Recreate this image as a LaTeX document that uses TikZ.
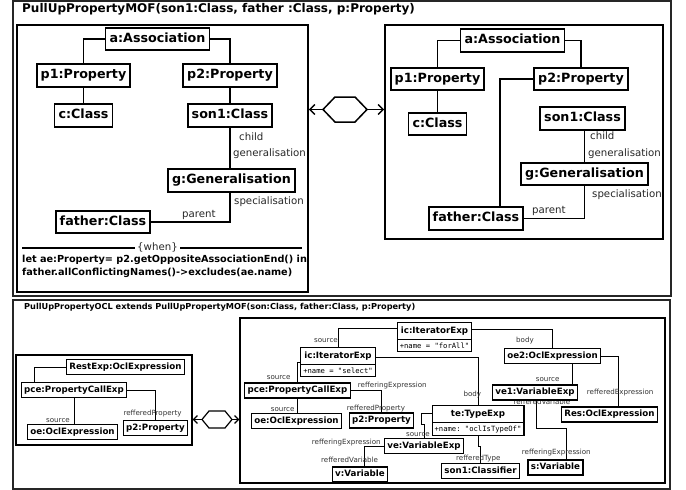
\documentclass[tikz,border=0pt]{standalone}
\usepackage{fontspec}
\setmainfont{DejaVu Sans}
\setmonofont{DejaVu Sans Mono}
\usetikzlibrary{arrows.meta,shapes.multipart}
\pgfdeclarelayer{bg}
\pgfsetlayers{bg,main}
\newcommand\nstrut{\rule[-2.6pt]{0pt}{10.5pt}}
\newcommand\astrut{\rule[-0.5pt]{0pt}{5.5pt}}
\newcommand\attrtext[1]{{\mdseries\ttfamily\fontsize{7.2}{8}\selectfont\astrut#1}}
\begin{document}
\begin{tikzpicture}[x=1pt,y=-1pt,
  outer/.style={draw=black!85, line width=1.5pt, inner sep=0pt},
  frame/.style={draw, line width=1.6pt, inner sep=0pt},
  sframe/.style={draw, line width=1.2pt, inner sep=0pt},
  big/.style={draw, fill=white, line width=1.8pt, font=\fontsize{12.7}{14}\selectfont\bfseries,
    inner xsep=4pt, inner ysep=0pt, text height=9.3pt, text depth=2.7pt, minimum height=22.5pt},
  bigl/.style={font=\fontsize{10.2}{12}\selectfont, text=black!85, inner sep=0pt, anchor=base west},
  conn/.style={line width=1.5pt},
  sm/.style={draw, fill=white, line width=1.3pt, font=\fontsize{8.7}{10}\selectfont\bfseries,
    inner xsep=3pt, inner ysep=0pt, text height=6.8pt, text depth=2pt, minimum height=15pt},
  smsplit/.style={draw, fill=white, line width=1.3pt, rectangle split, rectangle split parts=2,
    font=\fontsize{8.7}{10}\selectfont\bfseries, inner xsep=2.5pt, inner ysep=2.5pt, anchor=north},
  sml/.style={font=\fontsize{7.1}{8}\selectfont, text=black!80, inner sep=0pt, anchor=base west},
  sconn/.style={line width=1pt},
  tip/.style={-{Straight Barb[length=5pt,width=10pt]}, line width=1.4pt},
  stip/.style={-{Straight Barb[length=4pt,width=8pt]}, line width=1.2pt}
]
\useasboundingbox (0,0) rectangle (686,490);

% ---------- frames ----------
\node[outer, minimum width=658pt, minimum height=295pt] (otop) at (342,148.5) {};
\node[outer, minimum width=657pt, minimum height=189pt] (obot) at (341.5,394.5) {};
\node[frame, minimum width=291pt, minimum height=267pt] (F1) at (162.5,158.5) {};
\node[frame, minimum width=278pt, minimum height=214pt] (F2) at (524,132) {};
\node[sframe, minimum width=176pt, minimum height=90pt] (F3) at (104,400) {};
\node[sframe, minimum width=425pt, minimum height=165pt] (F4) at (452.5,400.5) {};

% ---------- titles ----------
\node[anchor=base west, inner sep=0pt, font=\fontsize{12}{14}\selectfont\bfseries] (title1) at (22,12.5)
  {PullUpPropertyMOF(son1:Class, father :Class, p:Property)};
\node[anchor=base west, inner sep=0pt, font=\fontsize{8.2}{10}\selectfont\bfseries] (title2) at (24,309.5)
  {PullUpPropertyOCL extends PullUpPropertyMOF(son:Class, father:Class, p:Property)};

% ---------- top left ----------
\node[big] (a1) at (157.5,39) {a:Association};
\node[big] (p11) at (83.5,75.5) {p1:Property};
\node[big] (p21) at (230,75.5) {p2:Property};
\node[big] (c1) at (83.5,115.5) {c:Class};
\node[big] (s1) at (230,115.5) {son1:Class};
\node[big] (g1) at (231.5,180.5) {g:Generalisation};
\node[big] (f1) at (103,222) {father:Class};

\node[bigl] (lchild1) at (239,140) {child};
\node[bigl] (lgen1) at (233,156) {generalisation};
\node[bigl] (lspec1) at (234,204.5) {specialisation};
\node[bigl] (lpar1) at (182,217.5) {parent};

\node[font=\fontsize{10.2}{12}\selectfont, text=black!85, inner xsep=2.5pt, inner ysep=0pt] (when) at (157.5,247.5) {\{when\}};
\coordinate (wl) at (22,248);
\coordinate (wr) at (302,248);
\draw[line width=1.3pt] (wl) -- (wl -| when.west);
\draw[line width=1.3pt] (when.east |- wr) -- (wr);
\node[anchor=base west, inner sep=0pt, font=\fontsize{9.7}{11}\selectfont\bfseries] (ocl1) at (22,262)
  {let ae:Property= p2.getOppositeAssociationEnd() in};
\node[anchor=base west, inner sep=0pt, font=\fontsize{9.7}{11}\selectfont\bfseries] (ocl2) at (22,275.5)
  {father.allConflictingNames()->excludes(ae.name)};

% ---------- top right ----------
\node[big] (a2) at (512.5,40.5) {a:Association};
\node[big] (p12) at (437.5,79) {p1:Property};
\node[big] (p22) at (581,79) {p2:Property};
\node[big] (c2) at (437.5,124) {c:Class};
\node[big] (s2) at (582.5,118.5) {son1:Class};
\node[big] (g2) at (584.5,174) {g:Generalisation};
\node[big] (f2) at (476,218.5) {father:Class};

\node[bigl] (lchild2) at (590,139) {child};
\node[bigl] (lgen2) at (588,156) {generalisation};
\node[bigl] (lspec2) at (592,197.5) {specialisation};
\node[bigl] (lpar2) at (532,213) {parent};

% ---------- top hexagon ----------
\begin{scope}[shift={(345,109.5)}]
  \draw[line width=1.5pt] (-22,0) -- (-10,-12.5) -- (10,-12.5) -- (22,0) -- (10,12.5) -- (-10,12.5) -- cycle;
  \coordinate (hxL) at (-22,0);
  \coordinate (hxR) at (22,0);
\end{scope}
\draw[tip] (hxL) -- (hxL -| F1.east);
\draw[tip] (hxR) -- (hxR -| F2.west);

% ---------- bottom left ----------
\node[sm] (R3) at (125.5,367) {RestExp:OclExpression};
\node[sm] (pce3) at (74,390) {pce:PropertyCallExp};
\node[sm] (oe3) at (72.5,432) {oe:OclExpression};
\node[sm] (p23) at (155.5,428) {p2:Property};

% ---------- bottom hexagon ----------
\begin{scope}[shift={(217,419.5)}]
  \draw[line width=1.2pt] (-15,0) -- (-8,-8.5) -- (8,-8.5) -- (15,0) -- (8,8.5) -- (-8,8.5) -- cycle;
  \coordinate (hyL) at (-15,0);
  \coordinate (hyR) at (15,0);
\end{scope}
\draw[stip] (hyL) -- (hyL -| F3.east);
\draw[stip] (hyR) -- (hyR -| F4.west);

% ---------- bottom right ----------
\node[smsplit] (ic1) at (434.5,322) {\nstrut ic:IteratorExp\nodepart{two}\attrtext{+name = "forAll"}};
\node[smsplit] (ic2) at (338,347) {\nstrut ic:IteratorExp\nodepart{two}\attrtext{+name = "select"}};
\node[smsplit] (te) at (478,405) {\nstrut te:TypeExp\nodepart{two}\attrtext{+name: "oclIsTypeOf"}};
\node[sm] (pce4) at (297.5,390.5) {pce:PropertyCallExp};
\node[sm] (oe4) at (296.5,421) {oe:OclExpression};
\node[sm] (p24) at (381.5,420.5) {p2:Property};
\node[sm] (ve4) at (424,446) {ve:VariableExp};
\node[sm] (v4) at (360,474.5) {v:Variable};
\node[sm] (son4) at (480.5,471) {son1:Classifier};
\node[sm] (oe24) at (552.5,356) {oe2:OclExpression};
\node[sm] (ve14) at (535,392.5) {ve1:VariableExp};
\node[sm] (res4) at (609.5,414.5) {Res:OclExpression};
\node[sm] (s4) at (555.5,467.5) {s:Variable};

\begin{pgfonlayer}{bg}
  % top left connectors
  \draw[conn] (a1.west) -| (p11.north);
  \draw[conn] (a1.east) -| (p21.north);
  \draw[conn] (p11.south) -- (c1.north);
  \draw[conn] (p21.south) -- (s1.north);
  \draw[conn] (s1.south) -- (s1.south |- g1.north);
  \draw[conn] (s1.south |- g1.south) |- (f1.east);
  % top right connectors
  \draw[conn] (a2.west) -| (p12.north);
  \draw[conn] (a2.east) -| (p22.north);
  \draw[conn] (p12.south) -- (c2.north);
  \draw[conn] (p22.west) -| ([xshift=24pt]f2.north);
  \draw[conn] (g2.north |- s2.south) -- (g2.north);
  \draw[conn] (g2.south) |- (f2.east);
  % bottom left connectors
  \draw[sconn] (R3.west) -| ([xshift=-40pt]pce3.north);
  \draw[sconn] (pce3.south) -- (pce3.south |- oe3.north);
  \draw[sconn] (pce3.east) -| (p23.north);
  \node[sml] (lb1) at (46,422) {source};
  \node[sml] (lb2) at (123.3,415) {refferedProperty};
  % bottom right connectors
  \draw[sconn] ([yshift=-6pt]ic1.north west) -| (ic2.north);
  \draw[sconn] ([yshift=-10pt]ic2.north east) -| (te.north);
  \draw[sconn] ([yshift=-15pt]ic2.north west) -| (pce4.north);
  \draw[sconn] (pce4.south) -- (pce4.south |- oe4.north);
  \draw[sconn] (pce4.east) -| (p24.north);
  \draw[sconn] ([yshift=-8pt]te.north west) -| ([xshift=-3pt,yshift=13pt]ve4.north) -| (ve4.north);
  \draw[sconn] (ve4.west) -| ([xshift=4pt]v4.north);
  \draw[sconn] (te.south) |- ([yshift=16pt]son4.north) -- (son4.north);
  \draw[sconn] ([yshift=-7pt]ic1.north east) -| (oe24.north);
  \draw[sconn] ([xshift=19.5pt]oe24.south) -- ([xshift=19.5pt]oe24.south |- ve14.north);
  \draw[sconn] (oe24.east) -| ([xshift=8.5pt]res4.north);
  \draw[sconn] ([xshift=1pt]ve14.south) |- ([xshift=10.5pt,yshift=31pt]s4.north) -- ([xshift=10.5pt]s4.north);
  % bottom right labels
  \node[sml] (lr1) at (314,342.5) {source};
  \node[sml] (lr2) at (516,342.5) {body};
  \node[sml] (lr3) at (266.7,379.3) {source};
  \node[sml] (lr4) at (357.7,387.3) {refferingExpression};
  \node[sml] (lr5) at (463.3,396) {body};
  \node[sml] (lr6) at (535.7,381.5) {source};
  \node[sml] (lr7) at (586.7,394.7) {refferedExpression};
  \node[sml] (lr8) at (513.3,404) {refferedVariable};
  \node[sml] (lr9) at (270.7,411.7) {source};
  \node[sml] (lr10) at (346.7,410.5) {refferedProperty};
  \node[sml] (lr11) at (406,436.7) {source};
  \node[sml] (lr12) at (311.7,444) {refferingExpression};
  \node[sml] (lr13) at (521.7,454) {refferingExpression};
  \node[sml] (lr14) at (456,460.5) {refferedType};
  \node[sml] (lr15) at (321,462.5) {refferedVariable};
\end{pgfonlayer}
\end{tikzpicture}
\end{document}
